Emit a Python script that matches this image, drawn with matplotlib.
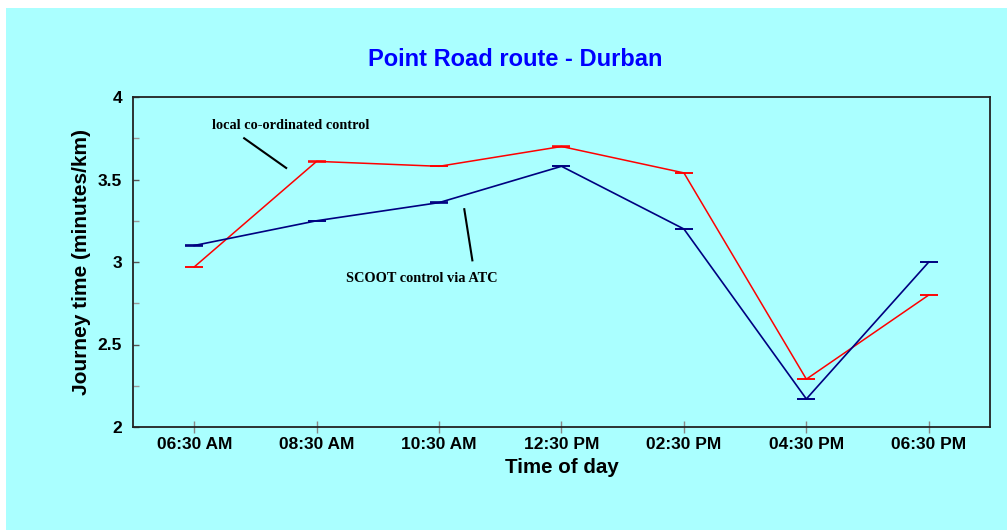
import numpy as np
import matplotlib
matplotlib.use("Agg")
import matplotlib.pyplot as plt
from matplotlib.patches import Rectangle
from matplotlib.ticker import MultipleLocator

# data
times = ["06:30 AM", "08:30 AM", "10:30 AM", "12:30 PM", "02:30 PM", "04:30 PM", "06:30 PM"]
local_ctrl = [2.97, 3.61, 3.58, 3.70, 3.54, 2.29, 2.80]
scoot_ctrl = [3.10, 3.25, 3.36, 3.58, 3.20, 2.17, 3.00]
local_err = [0.001] * 7
scoot_err = [0.001] * 7

bg = "#AAFFFF"
plt.rcParams["font.family"] = ["Liberation Sans", "DejaVu Sans"]
plt.rcParams["font.weight"] = "bold"

fig = plt.figure(figsize=(10.07, 5.30), dpi=100)
fig.patch.set_facecolor("white")
fig.patches.append(Rectangle((6 / 1007, 0), 1, 1 - 8 / 530, transform=fig.transFigure,
                             facecolor=bg, edgecolor="none", zorder=-10))

ax = fig.add_axes([133 / 1007, 1 - 427 / 530, 857 / 1007, 330 / 530])
ax.set_facecolor(bg)

x = np.arange(len(times))
ax.errorbar(x, local_ctrl, yerr=local_err, color="#FF0000", lw=1.1, capsize=6.2, capthick=1.1)
ax.errorbar(x, scoot_ctrl, yerr=scoot_err, color="#000080", lw=1.2, capsize=6.2, capthick=1.2)

ax.set_xlim(-0.5, 6.5)
ax.set_ylim(2, 4)
ax.set_xticks(x)
ax.set_xticklabels(times, fontsize=12.5, fontweight="bold")
ax.yaxis.set_major_locator(MultipleLocator(0.5))
ax.yaxis.set_minor_locator(MultipleLocator(0.25))
ax.set_yticks([2, 2.5, 3, 3.5, 4])
ax.set_yticklabels(["2", "2.5", "3", "3.5", "4"], fontsize=12.5, fontweight="bold")
ax.tick_params(axis="x", direction="inout", length=8.6, width=1, color="#888888", pad=3)
ax.tick_params(axis="y", which="major", direction="in", length=4, width=1, color="#555555", pad=8)
ax.tick_params(axis="y", which="minor", direction="in", length=4, width=1, color="#999999")

for s in ax.spines.values():
    s.set_color("#222222")
    s.set_linewidth(1.3)

ax.set_xlabel("Time of day", fontsize=14.8, fontweight="bold", labelpad=4)
ax.set_ylabel("Journey time (minutes/km)", fontsize=15, fontweight="bold", labelpad=5)
fig.text(0.512, 1 - 59 / 530, "Point Road route - Durban", color="#0000FF",
         fontsize=17, fontweight="bold", ha="center", va="center")

# callouts
ax.plot([0.408, 0.751], [3.75, 3.57], color="black", lw=1.5)
ax.text(0.784, 3.83, "local co-ordinated control", family="Liberation Serif",
        fontsize=10.3, fontweight="bold", ha="center", va="center")
ax.plot([2.206, 2.272], [3.32, 3.01], color="black", lw=1.5)
ax.text(1.855, 2.90, "SCOOT control via ATC", family="Liberation Serif",
        fontsize=10.4, fontweight="bold", ha="center", va="center")

fig.savefig("out.png", dpi=100, facecolor=fig.get_facecolor())
